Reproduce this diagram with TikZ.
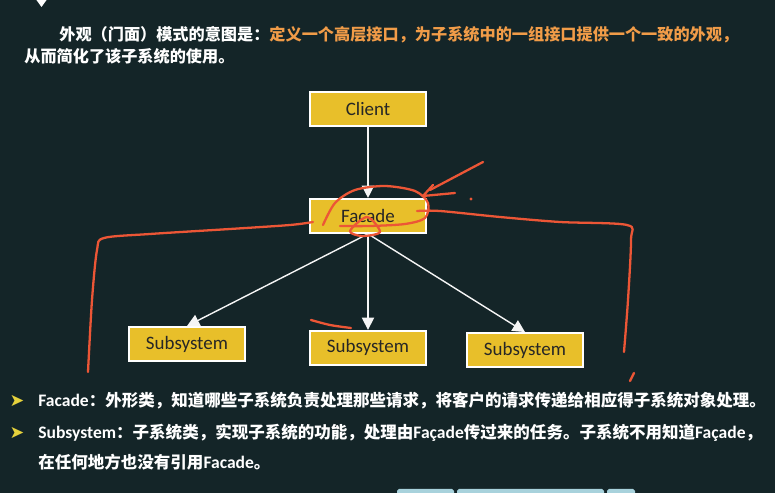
\documentclass[tikz,border=0pt]{standalone}
\usepackage{fontspec}
\setmainfont{Carlito}
\newfontfamily\cjk{Noto Sans CJK SC}
\newfontfamily\latfont{Carlito}
\newfontfamily\symfont{DejaVu Sans}
\usetikzlibrary{arrows.meta, positioning}
\definecolor{bgdark}{RGB}{20,37,40}
\definecolor{boxyellow}{RGB}{232,191,42}
\definecolor{hiorange}{RGB}{241,156,72}
\definecolor{inkred}{RGB}{236,86,54}
\definecolor{bulletyellow}{RGB}{230,210,60}
\definecolor{barblue}{RGB}{168,210,220}
\newcommand{\lat}[1]{{\latfont\bfseries\fontsize{10}{11}\selectfont #1}}
\tikzset{
  cls/.style={rectangle,draw=white,line width=1.1pt,fill=boxyellow,minimum width=2.32cm,minimum height=0.68cm,inner sep=0pt,font=\fontsize{10.8}{12}\selectfont,text=black!85},
  assoc/.style={-{Triangle[width=7pt,length=7pt]}, draw=white!92!gray, line width=0.8pt},
  txt/.style={anchor=west,inner sep=0pt,font=\cjk\bfseries\fontsize{9.4}{11}\selectfont,text=white},
  bullet/.style={inner sep=0pt,font=\symfont\fontsize{10}{11}\selectfont,text=bulletyellow},
  ink/.style={draw=inkred,line width=1.3pt,line cap=round,line join=round}
}

\begin{document}
\begin{tikzpicture}[x=0.02cm, y=-0.02cm]
  \useasboundingbox (0,0) rectangle (775,493);
  \fill[bgdark] (0,0) rectangle (775,493);
  \fill[white] (35,-2) -- (48,-2) -- (41.5,7) -- cycle;

  % title
  \node[txt, font=\cjk\bfseries\fontsize{9.2}{11}\selectfont] (intent) at (59,35) {外观（门面）模式的意图是：\textcolor{hiorange}{定义一个高层接口，为子系统中的一组接口提供一个一致的外观，}};
  \node[txt, font=\cjk\bfseries\fontsize{9.2}{11}\selectfont] (simplify) at (24,56) {从而简化了该子系统的使用。};

  % classes
  \node[cls] (client) at (368,109) {Client};
  \node[cls, below=1.42cm of client] (facade) {Facade};
  \node[cls] (subA) at (187,344) {Subsystem};
  \node[cls, below=1.92cm of facade] (subB) {Subsystem};
  \node[cls] (subC) at (525,350) {Subsystem};

  \draw[assoc] (client) -- (facade);
  \draw[assoc] (facade.south) -- (subA.north);
  \draw[assoc] (facade.south) -- (subB.north);
  \draw[assoc] (facade.south) -- (subC.north);

  % notes
  \node[bullet] (bulletA) at (17,401) {➤};
  \node[txt] (noteA) at (38,401) {\lat{Facade}：外形类，知道哪些子系统负责处理那些请求，将客户的请求传递给相应得子系统对象处理。};
  \node[bullet] (bulletB) at (17,433) {➤};
  \node[txt] (noteB) at (38,433) {\lat{Subsystem}：子系统类，实现子系统的功能，处理由\lat{Façade}传过来的任务。子系统不用知道\lat{Façade}，};
  \node[txt] (noteC) at (38,462) {在任何地方也没有引用\lat{Facade}。};

  % hand-drawn marks
  \draw[ink] plot[smooth] coordinates {(88,372) (92,300) (97,250) (104,238) (150,234) (230,229) (290,225) (313,222)};
  \draw[ink] plot[smooth] coordinates {(417,211) (440,211) (500,217) (560,222) (627,225) (631,240) (628,300) (624,352)};
  \draw[ink] (630,381) -- (634,373);
  \draw[ink] plot[smooth] coordinates {(323,225) (335,203) (355,190) (385,186) (415,191) (428,203) (425,218) (405,224) (370,226) (340,226)};
  \draw[ink] (483,162) -- (430,190);
  \draw[ink] (433,185) -- (423,196) -- (455,193);
  \fill[inkred] (471,199) circle (1.6);
  \draw[ink] plot[smooth cycle] coordinates {(350,231) (367,217) (380,232) (362,236)};
  \draw[ink] plot[smooth] coordinates {(311,320) (330,325) (351,328)};

  % toolbar edge
  \fill[barblue, rounded corners=1pt] (397,489) rectangle (454,498);
  \fill[barblue, rounded corners=1pt] (457,489) rectangle (604,498);
  \fill[barblue, rounded corners=1pt] (607,489) rectangle (635,498);
\end{tikzpicture}
\end{document}
